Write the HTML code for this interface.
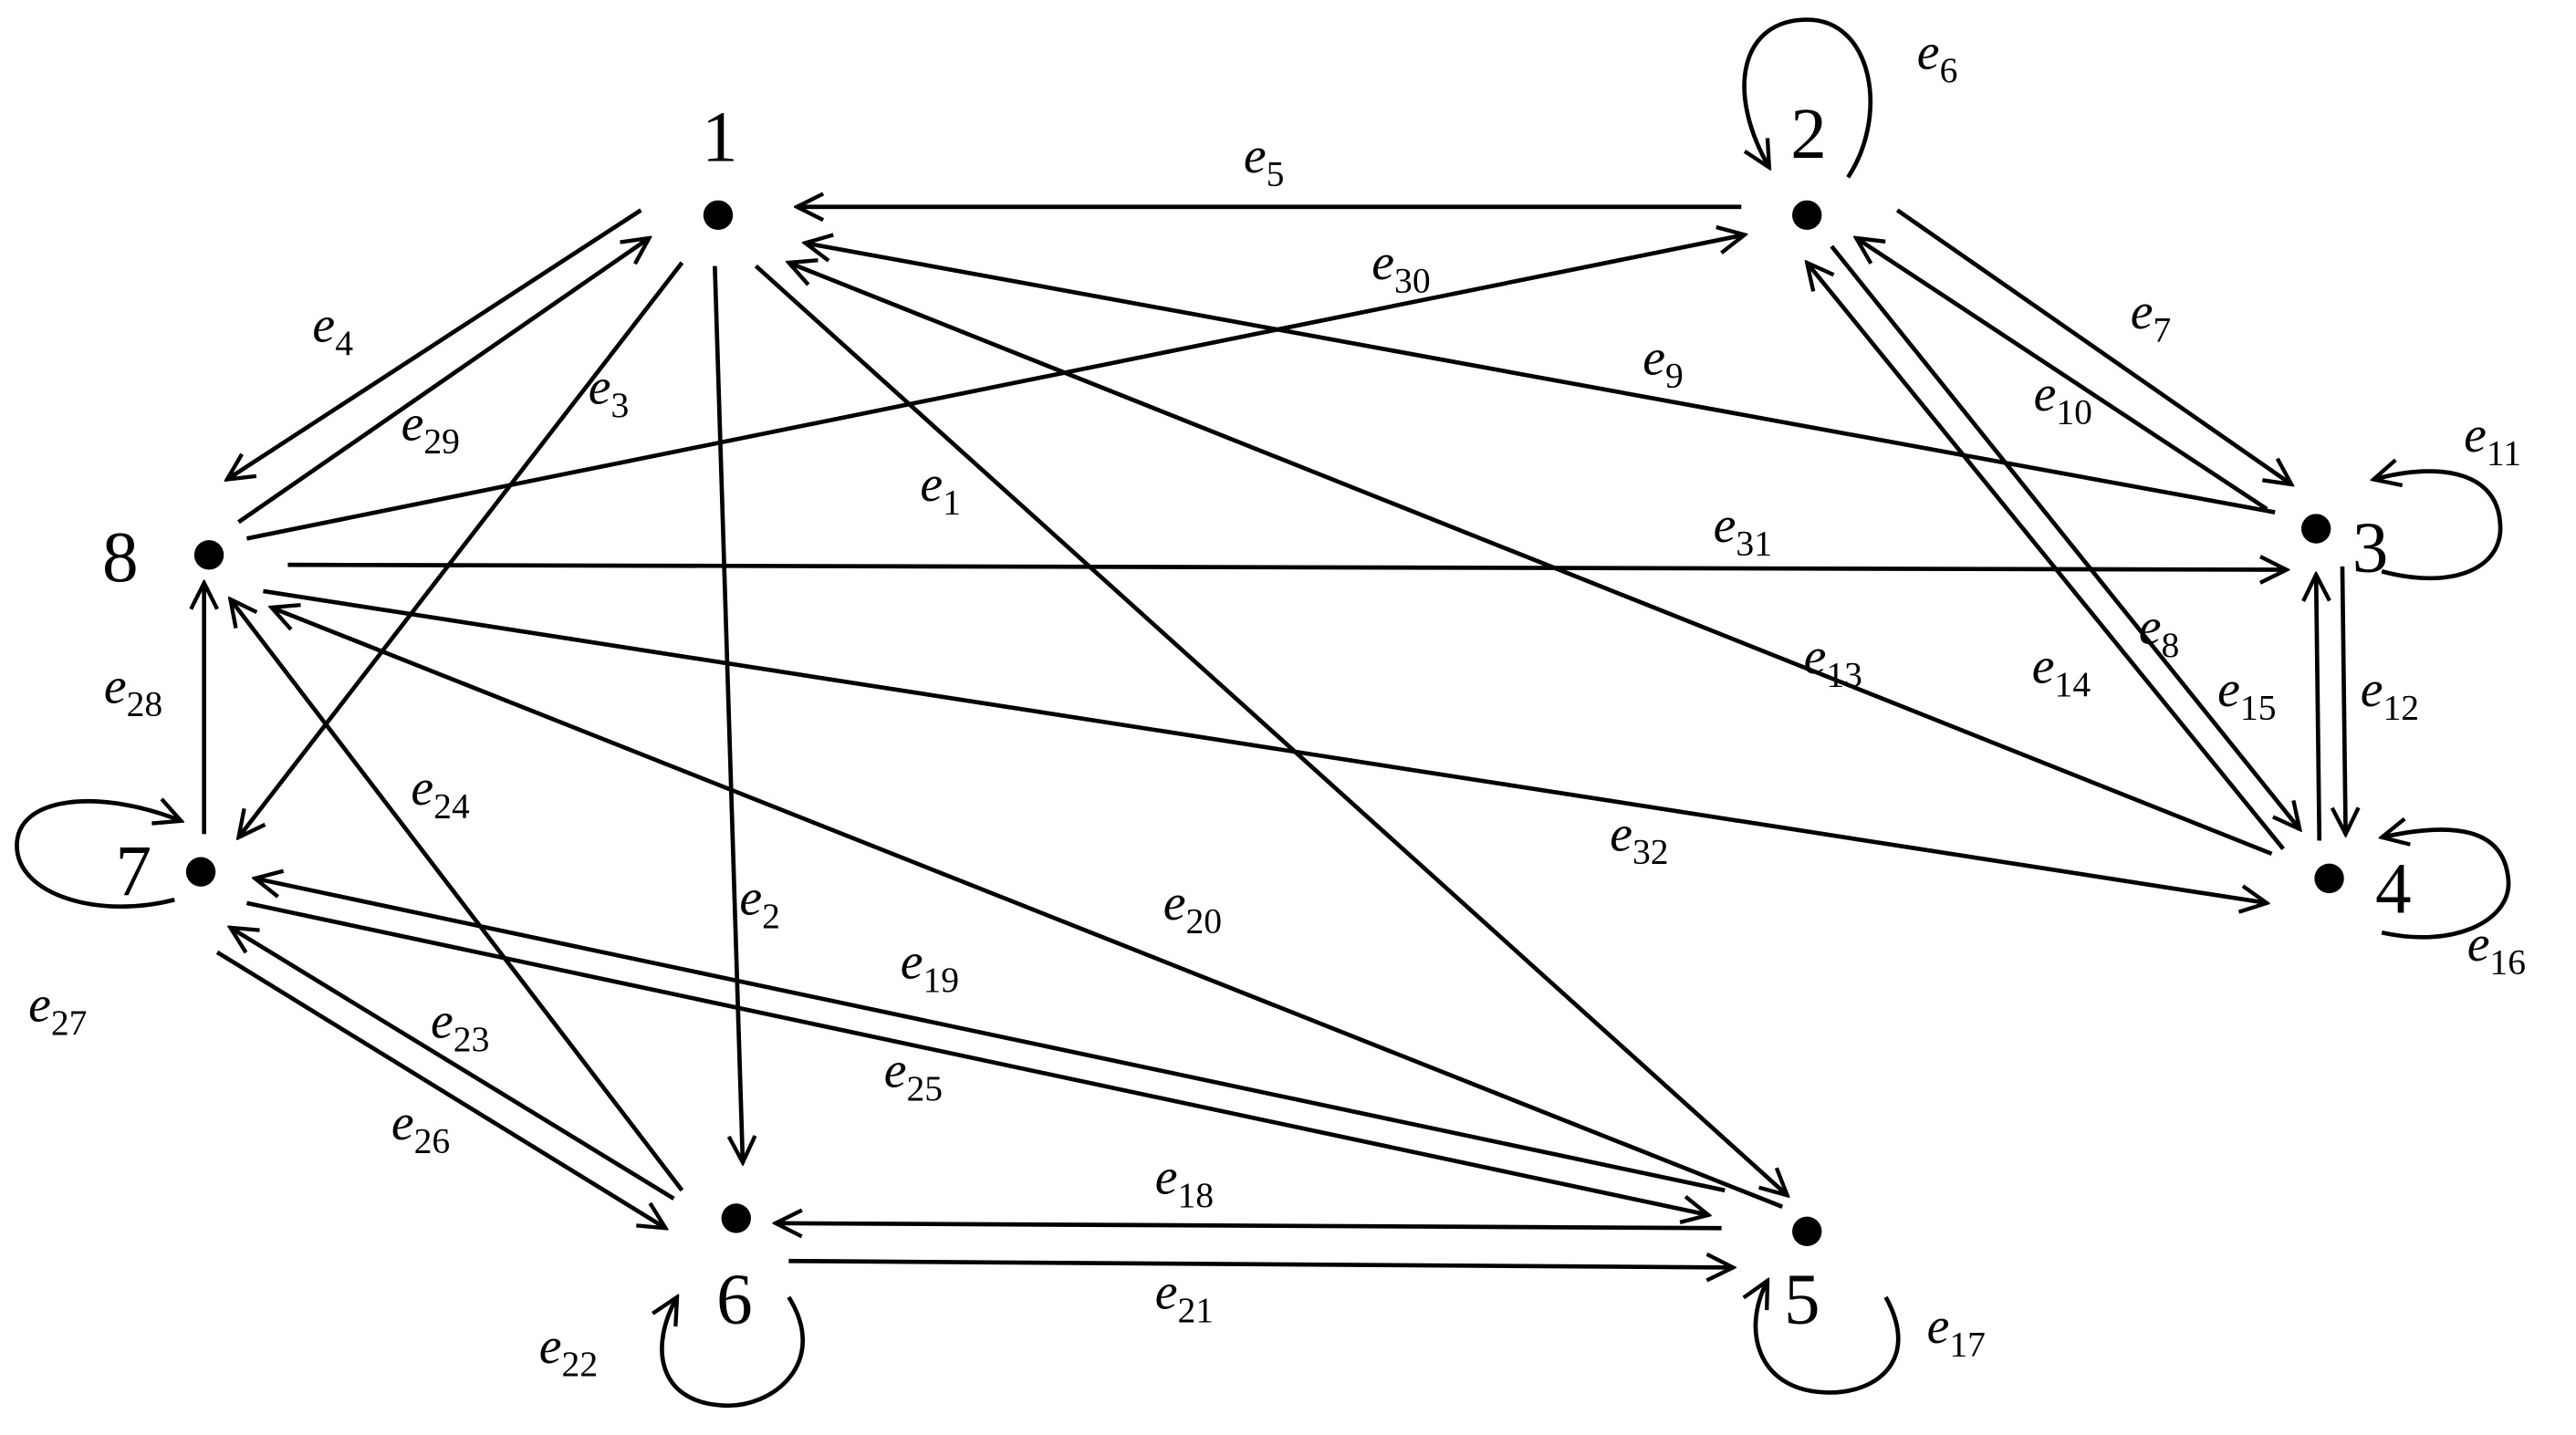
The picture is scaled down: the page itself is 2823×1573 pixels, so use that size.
<!DOCTYPE html>
<html><head><meta charset="utf-8"><style>
html,body{margin:0;padding:0;background:#fff;}
svg{display:block;}
text{font-family:"Liberation Serif",serif;fill:#000;}
.e{font-style:italic;font-size:31px;}
.s{font-style:normal;font-size:22px;}
.n{font-size:44px;}
</style></head><body>
<svg width="2823" height="1573" viewBox="0 0 1568 874" xmlns="http://www.w3.org/2000/svg">
<defs>
<marker id="a" viewBox="0 0 20 20" refX="18" refY="10" markerWidth="20" markerHeight="20" markerUnits="userSpaceOnUse" orient="auto">
<path d="M2,2 L18,10 L2,18" fill="none" stroke="#000" stroke-width="2.4"/>
</marker>
</defs>
<g stroke="#000" stroke-width="2.6" fill="none" marker-end="url(#a)">
<line x1="1060" y1="126" x2="485" y2="126"/>
<line x1="150" y1="328" x2="1062" y2="143"/>
<line x1="1385" y1="312" x2="490" y2="148"/>
<line x1="175" y1="344" x2="1392" y2="347"/>
<line x1="160" y1="360" x2="1380" y2="550"/>
<line x1="1383" y1="520" x2="480" y2="160"/>
<line x1="460" y1="162" x2="1088" y2="728"/>
<line x1="435" y1="162" x2="452" y2="708"/>
<line x1="415" y1="160" x2="145" y2="510"/>
<line x1="390" y1="128" x2="138" y2="292"/>
<line x1="145" y1="318" x2="395" y2="145"/>
<line x1="1155" y1="128" x2="1395" y2="295"/>
<line x1="1380" y1="310" x2="1130" y2="145"/>
<line x1="1115" y1="150" x2="1400" y2="505"/>
<line x1="1390" y1="517" x2="1100" y2="160"/>
<line x1="1426" y1="345" x2="1428" y2="508"/>
<line x1="1412" y1="512" x2="1410" y2="350"/>
<line x1="124" y1="508" x2="124" y2="355"/>
<line x1="415" y1="725" x2="140" y2="365"/>
<line x1="1085" y1="735" x2="165" y2="370"/>
<line x1="1050" y1="725" x2="155" y2="535"/>
<line x1="150" y1="550" x2="1040" y2="740"/>
<line x1="410" y1="730" x2="140" y2="565"/>
<line x1="132" y1="580" x2="405" y2="748"/>
<line x1="1048" y1="748" x2="472" y2="745"/>
<line x1="480" y1="768" x2="1055" y2="772"/>
<path d="M1125,108 C1150,70 1140,12 1100,12 C1060,12 1050,55 1077,102"/>
<path d="M1450,348 C1495,360 1525,345 1522,318 C1520,290 1490,280 1445,292"/>
<path d="M1450,568 C1495,578 1530,560 1527,535 C1524,505 1495,500 1450,510"/>
<path d="M1148,790 C1170,830 1140,850 1110,848 C1070,846 1060,810 1076,780"/>
<path d="M480,790 C505,830 470,858 440,856 C400,854 395,820 412,790"/>
<path d="M106,548 C60,560 10,545 10,515 C10,485 60,480 110,500"/>
</g>
<g fill="#000">
<circle cx="437" cy="131" r="9"/><circle cx="1100" cy="131" r="9"/>
<circle cx="1410" cy="322" r="9"/><circle cx="1418" cy="535" r="9"/>
<circle cx="1100" cy="750" r="9"/><circle cx="448" cy="742" r="9"/>
<circle cx="122" cy="531" r="9"/><circle cx="127" cy="338" r="9"/>
</g>
<text class="n" x="427" y="98">1</text>
<text class="n" x="1090" y="96">2</text>
<text class="n" x="1432" y="348">3</text>
<text class="n" x="1446" y="556">4</text>
<text class="n" x="1086" y="806">5</text>
<text class="n" x="436" y="806">6</text>
<text class="n" x="70" y="545">7</text>
<text class="n" x="62" y="354">8</text>
<g class="e">
<text x="757" y="105">e<tspan class="s" dy="8">5</tspan></text>
<text x="835" y="170">e<tspan class="s" dy="8">30</tspan></text>
<text x="1000" y="228">e<tspan class="s" dy="8">9</tspan></text>
<text x="1043" y="330">e<tspan class="s" dy="8">31</tspan></text>
<text x="980" y="518">e<tspan class="s" dy="8">32</tspan></text>
<text x="1098" y="410">e<tspan class="s" dy="8">13</tspan></text>
<text x="560" y="305">e<tspan class="s" dy="8">1</tspan></text>
<text x="450" y="557">e<tspan class="s" dy="8">2</tspan></text>
<text x="358" y="246">e<tspan class="s" dy="8">3</tspan></text>
<text x="190" y="208">e<tspan class="s" dy="8">4</tspan></text>
<text x="244" y="268">e<tspan class="s" dy="8">29</tspan></text>
<text x="1297" y="200">e<tspan class="s" dy="8">7</tspan></text>
<text x="1238" y="250">e<tspan class="s" dy="8">10</tspan></text>
<text x="1302" y="392">e<tspan class="s" dy="8">8</tspan></text>
<text x="1237" y="416">e<tspan class="s" dy="8">14</tspan></text>
<text x="1350" y="430">e<tspan class="s" dy="8">15</tspan></text>
<text x="1437" y="430">e<tspan class="s" dy="8">12</tspan></text>
<text x="1500" y="275">e<tspan class="s" dy="8">11</tspan></text>
<text x="1167" y="42">e<tspan class="s" dy="8">6</tspan></text>
<text x="1502" y="585">e<tspan class="s" dy="8">16</tspan></text>
<text x="1173" y="818">e<tspan class="s" dy="8">17</tspan></text>
<text x="328" y="830">e<tspan class="s" dy="8">22</tspan></text>
<text x="17" y="622">e<tspan class="s" dy="8">27</tspan></text>
<text x="63" y="428">e<tspan class="s" dy="8">28</tspan></text>
<text x="250" y="490">e<tspan class="s" dy="8">24</tspan></text>
<text x="708" y="560">e<tspan class="s" dy="8">20</tspan></text>
<text x="548" y="596">e<tspan class="s" dy="8">19</tspan></text>
<text x="538" y="662">e<tspan class="s" dy="8">25</tspan></text>
<text x="262" y="632">e<tspan class="s" dy="8">23</tspan></text>
<text x="238" y="694">e<tspan class="s" dy="8">26</tspan></text>
<text x="703" y="727">e<tspan class="s" dy="8">18</tspan></text>
<text x="703" y="797">e<tspan class="s" dy="8">21</tspan></text>
</g>
</svg>
</body></html>
